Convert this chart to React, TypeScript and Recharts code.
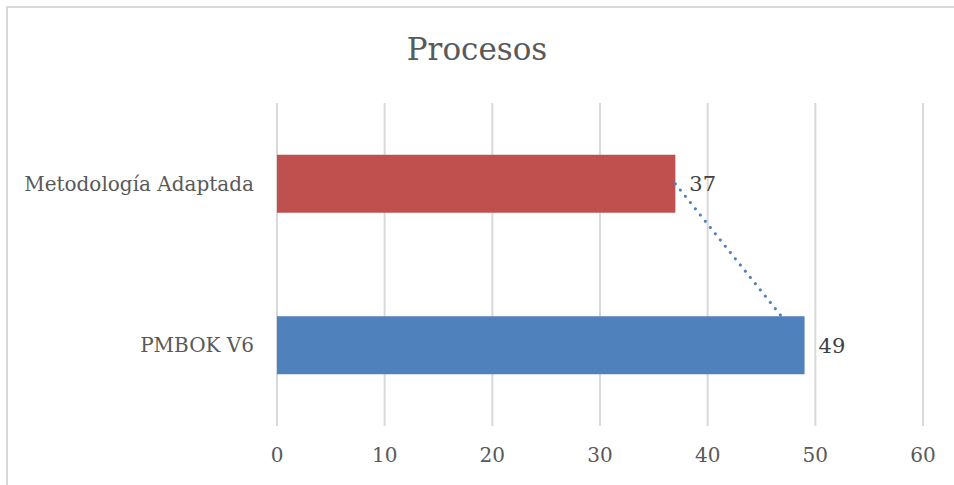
import React from 'react';
import { ComposedChart, Bar, Line, XAxis, YAxis, CartesianGrid, LabelList, Cell } from 'recharts';

const categories = ['Metodología Adaptada', 'PMBOK V6'];
const procesos = [37, 49];
const barColors = ['#C0504D', '#4F81BD'];
const xTicks = [0, 10, 20, 30, 40, 50, 60];

const chartData = categories.map((name, i) => ({ name, value: procesos[i] }));

const FONT = '"DejaVu Serif", serif';

function App() {
  return (
    <div style={{ position: 'fixed', left: 0, top: 0, width: 954, height: 485, background: '#fff', overflow: 'hidden' }}>
      {/* chart border */}
      <div style={{ position: 'absolute', left: 6, top: 6, width: 1000, height: 600, border: '2px solid #D9D9D9' }} />

      <div style={{ position: 'absolute', left: 0, top: 31, width: 954, textAlign: 'center', fontFamily: FONT, fontSize: 31, color: '#595959' }}>
        Procesos
      </div>

      <div style={{ position: 'absolute', left: 0, top: 0 }}>
        <ComposedChart
          width={954}
          height={485}
          data={chartData}
          layout="vertical"
          margin={{ top: 103, right: 31, bottom: 10, left: 0 }}
          barCategoryGap="32%"
        >
          <CartesianGrid horizontal={false} stroke="#D9D9D9" strokeWidth={2} />
          <XAxis
            type="number"
            domain={[0, 60]}
            ticks={xTicks}
            axisLine={false}
            tickLine={false}
            tickSize={0}
            tickMargin={22}
            height={49}
            tick={{ fill: '#595959', fontSize: 20, fontFamily: FONT }}
          />
          <YAxis
            type="category"
            dataKey="name"
            width={277}
            axisLine={false}
            tickLine={false}
            tickSize={0}
            tickMargin={23}
            tick={{ fill: '#595959', fontSize: 20, fontFamily: FONT }}
          />
          <Line
            dataKey="value"
            stroke="#4F81BD"
            strokeWidth={3}
            strokeDasharray="0.1 7.9"
            strokeLinecap="round"
            dot={false}
            activeDot={false}
            isAnimationActive={false}
          />
          <Bar dataKey="value" isAnimationActive={false}>
            {chartData.map((d, i) => (
              <Cell key={d.name} fill={barColors[i]} />
            ))}
            <LabelList dataKey="value" position="right" offset={14} fill="#404040" fontSize={21} fontFamily={FONT} />
          </Bar>
        </ComposedChart>
      </div>
    </div>
  );
}

export default App;
